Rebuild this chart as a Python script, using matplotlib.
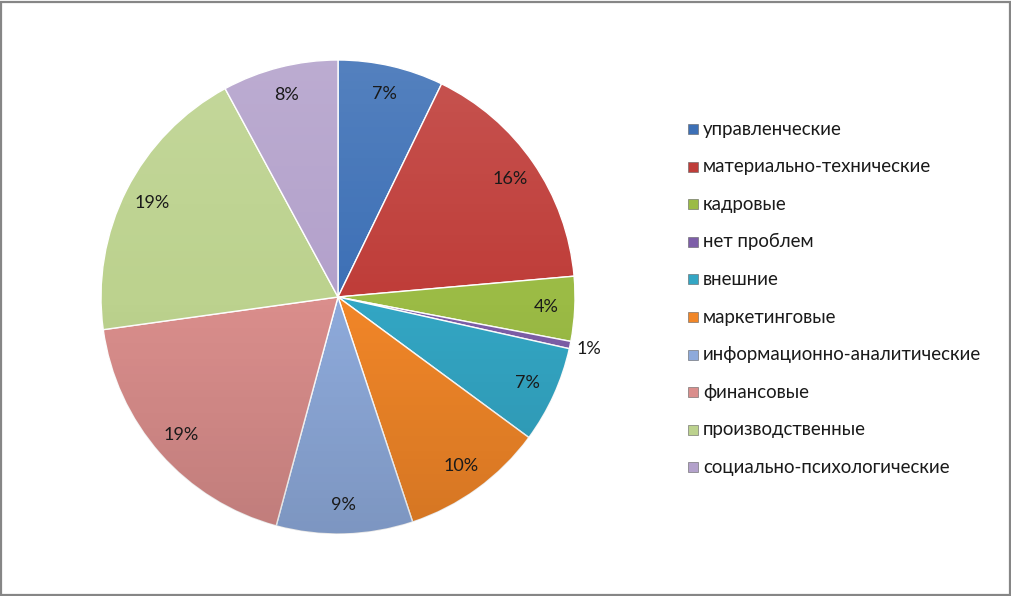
import numpy as np
import matplotlib
matplotlib.use("Agg")
import matplotlib.pyplot as plt
from matplotlib.patches import Rectangle, Circle

# Данные диаграммы (по часовой стрелке от 12 часов)
categories = [
    "управленческие",
    "материально-технические",
    "кадровые",
    "нет проблем",
    "внешние",
    "маркетинговые",
    "информационно-аналитические",
    "финансовые",
    "производственные",
    "социально-психологические",
]
shares = [7.2, 16.4, 4.4, 0.5, 6.6, 9.8, 9.3, 18.6, 19.3, 7.9]
pct_labels = ["7%", "16%", "4%", "1%", "7%", "10%", "9%", "19%", "19%", "8%"]
colors = ["#3d70b6", "#bf3d39", "#9bbb45", "#7d5ea8", "#33a6c4",
          "#f18628", "#8eaadb", "#da8e8c", "#bcd28e", "#b3a1cb"]

W, H = 1012, 596
fig = plt.figure(figsize=(W / 100, H / 100), dpi=100)
fig.patch.set_facecolor("white")

# рамка вокруг диаграммы
fig.add_artist(Rectangle((1.5 / W, 1.5 / H), (W - 3.5) / W, (H - 3.5) / H,
                         transform=fig.transFigure, fill=False,
                         edgecolor="#868686", linewidth=1.6))

cx, cy, R = 338, 297, 237
half = 245
ax = fig.add_axes([(cx - half) / W, (H - cy - half) / H, 2 * half / W, 2 * half / H])

wedges, _ = ax.pie(shares, colors=colors, startangle=90, counterclock=False,
                   radius=1.0, center=(0, 0), frame=False,
                   wedgeprops=dict(edgecolor="white", linewidth=1.0))
ax.set_xlim(-half / R, half / R)
ax.set_ylim(-half / R, half / R)
ax.set_aspect("equal")
ax.axis("off")

# лёгкий градиент сверху вниз, как в Excel
grad = np.linspace(1, -1, 256).reshape(-1, 1)
shade = np.zeros((256, 1, 4))
shade[..., :3] = np.where(grad[..., None] > 0, 1.0, 0.0)
shade[..., 3] = np.abs(grad) * 0.12
img = ax.imshow(shade, extent=(-1, 1, -1, 1), aspect="auto", zorder=3,
                interpolation="bilinear")
img.set_clip_path(Circle((0, 0), 1.0, transform=ax.transData))

font = ["Lato", "DejaVu Sans"]
for w, lab, v in zip(wedges, pct_labels, shares):
    ang = np.deg2rad((w.theta1 + w.theta2) / 2)
    r = 1.08 if v < 2 else 0.88
    ax.text(r * np.cos(ang), r * np.sin(ang), lab, ha="center", va="center",
            fontsize=13, family=font, color="#1a1a1a", zorder=5)

# легенда
lx, ly0, dy = 688, 129, 37.6
sq = 10
for i, (name, c) in enumerate(zip(categories, colors)):
    y = ly0 + i * dy
    fig.add_artist(Rectangle((lx / W, (H - y - sq / 2) / H), sq / W, sq / H,
                             transform=fig.transFigure, facecolor=c,
                             edgecolor="#606060", linewidth=0.4))
    fig.text((lx + sq + 5) / W, (H - y) / H, name, ha="left", va="center",
             fontsize=13.4, family=font, color="#1a1a1a")

fig.savefig("out.png", dpi=100)
